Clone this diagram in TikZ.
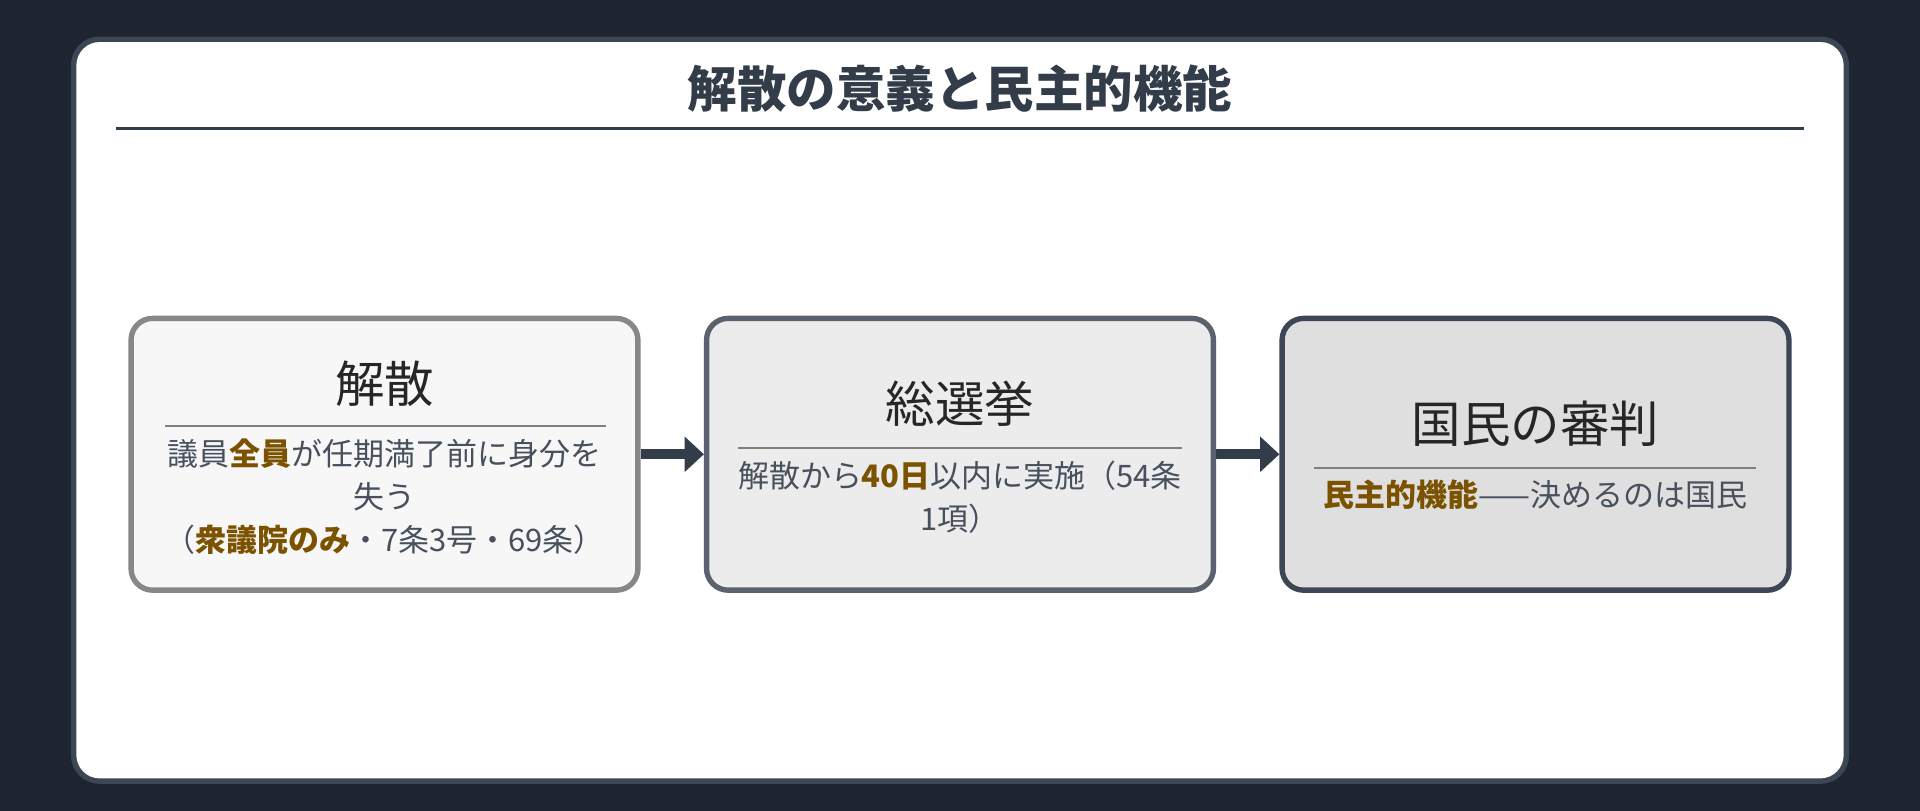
\documentclass[tikz,border=0pt]{standalone}
\usepackage{fontspec}
\setmainfont{Noto Sans CJK JP}
\usetikzlibrary{positioning,arrows.meta}
\definecolor{bgdark}{HTML}{1E2530}
\definecolor{cardedge}{HTML}{3D4654}
\definecolor{ink}{HTML}{333D4A}
\definecolor{hl}{HTML}{7A5200}
\newcommand{\hlt}[1]{\textcolor{hl}{\bfseries #1}}
\tikzset{
  stepbox/.style={draw, line width=2.5pt, rounded corners=10pt, minimum width=8.28cm, minimum height=4.44cm},
  boxtitle/.style={font=\fontsize{23}{27}\selectfont, text=black!85},
  boxbody/.style={font=\fontsize{14.4}{20}\selectfont, text=ink!90, align=center},
  flow/.style={-{Triangle[length=9pt,width=16pt]}, line width=4.5pt, draw=ink}
}
\begin{document}
\begin{tikzpicture}[x=0.02cm,y=-0.02cm]
\fill[bgdark] (0,0) rectangle (1568,662);
\useasboundingbox (0,0) rectangle (1568,662);
\node[draw=cardedge, fill=white, line width=2.5pt, rounded corners=12pt, minimum width=28.96cm, minimum height=12.12cm] (card) at (784,335) {};
% heading
\node[font=\fontsize{23}{27}\selectfont\bfseries, text=ink] (head) at (784,72) {解散の意義と民主的機能};
\coordinate (hl0) at (95,105);
\coordinate (hl1) at (1473,105);
\draw[ink, line width=1.2pt] (hl0) -- (hl1);
% steps
\node[stepbox, draw=black!45!white!60!gray, fill=gray!6] (s1) at (314,371) {};
\node[stepbox, draw=cardedge!85, fill=gray!15] (s2) at (784,371) {};
\node[stepbox, draw=cardedge, fill=gray!25] (s3) at (1254,371) {};
\node[boxtitle] (t1) at (314,313) {解散};
\node[boxtitle] (t2) at (784,330) {総選挙};
\node[boxtitle] (t3) at (1254,346) {国民の審判};
\draw[gray, line width=1pt] (135,348) -- (495,348);
\draw[gray, line width=1pt] (603,366) -- (965,366);
\draw[gray, line width=1pt] (1073,382) -- (1434,382);
\node[boxbody, anchor=north] (b1) at (314,352) {議員\hlt{全員}が任期満了前に身分を\\失う\\（\hlt{衆議院のみ}・7条3号・69条）};
\node[boxbody, anchor=north] (b2) at (784,370) {解散から\hlt{40日}以内に実施（54条\\1項）};
\node[boxbody, anchor=north] (b3) at (1254,386) {\hlt{民主的機能}——決めるのは国民};
\draw[flow] (s1) -- (s2);
\draw[flow] (s2) -- (s3);
\end{tikzpicture}
\end{document}
